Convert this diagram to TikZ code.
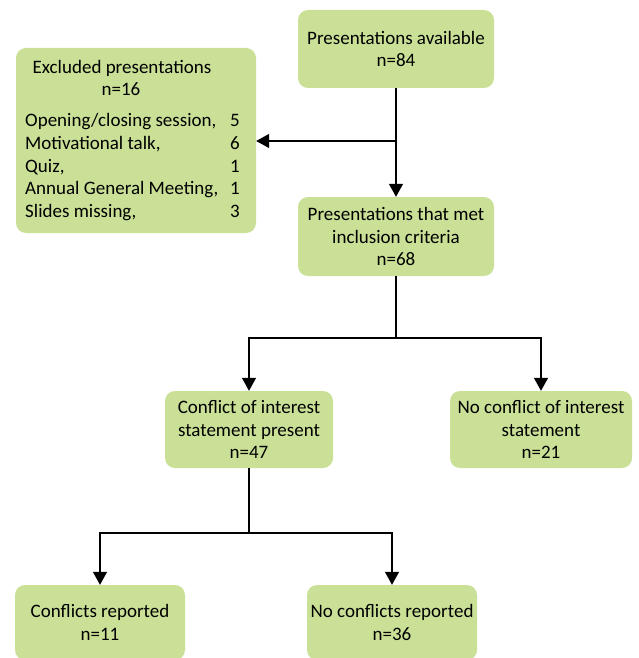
\documentclass[tikz,border=0pt]{standalone}
\usepackage{fontspec}
\setmainfont{Carlito}
\usetikzlibrary{arrows.meta}
\definecolor{boxgreen}{HTML}{C9E096}
\begin{document}
\begin{tikzpicture}[x=1pt,y=-1pt,
  box/.style={draw=none, fill=boxgreen, rounded corners=10pt, inner sep=0pt},
  txt/.style={font=\fontsize{19}{22.5}\selectfont, align=center},
  ltxt/.style={font=\fontsize{19}{22.5}\selectfont, inner sep=0pt},
  arr/.style={line width=1.4pt, -{Triangle[width=14pt,length=13pt]}},
  ln/.style={line width=1.4pt}]
\useasboundingbox (0,0) rectangle (638,658);
% boxes
\node[box, txt, minimum width=196pt, minimum height=78pt] (avail) at (396,49) {Presentations available\\n=84};
\node[box, minimum width=240pt, minimum height=185pt] (excl) at (136,140.5) {};
\node[box, txt, minimum width=196pt, minimum height=79pt] (incl) at (396,236.5) {Presentations that met\\inclusion criteria\\n=68};
\node[box, txt, minimum width=168pt, minimum height=77pt] (coi) at (249,429.5) {Conflict of interest\\statement present\\n=47};
\node[box, txt, minimum width=182pt, minimum height=77pt] (nocoi) at (541,429.5) {No conflict of interest\\statement\\n=21};
\node[box, txt, minimum width=170pt, minimum height=75pt] (rep) at (100,622.5) {Conflicts reported\\n=11};
\node[box, txt, minimum width=170pt, minimum height=75pt] (norep) at (392,622.5) {No conflicts reported\\n=36};
% excluded text
\node[ltxt, anchor=base] (ex1) at (122,74) {Excluded presentations};
\node[ltxt, anchor=base] (ex2) at (121,96) {n=16};
\node[ltxt, anchor=base west] (l1) at (25,126) {Opening/closing session,};
\node[ltxt, anchor=base west] (l2) at (25,149) {Motivational talk,};
\node[ltxt, anchor=base west] (l3) at (25,172) {Quiz,};
\node[ltxt, anchor=base west] (l4) at (25,194) {Annual General Meeting,};
\node[ltxt, anchor=base west] (l5) at (25,217) {Slides missing,};
\node[ltxt, anchor=base east] (n1) at (240,126) {5};
\node[ltxt, anchor=base east] (n2) at (240,149) {6};
\node[ltxt, anchor=base east] (n3) at (240,172) {1};
\node[ltxt, anchor=base east] (n4) at (240,194) {1};
\node[ltxt, anchor=base east] (n5) at (240,217) {3};
% connectors
\coordinate (j1) at (396,141);
\coordinate (j2) at (396,338);
\coordinate (j3) at (249,533);
\draw[arr] (avail) -- (incl);
\draw[arr] (j1) -- (excl.east |- j1);
\draw[ln] (incl) -- (j2);
\draw[arr] (j2) -| (coi);
\draw[arr] (j2) -| (nocoi);
\draw[ln] (coi) -- (j3);
\draw[arr] (j3) -| (rep);
\draw[arr] (j3) -| (norep);
\end{tikzpicture}
\end{document}
